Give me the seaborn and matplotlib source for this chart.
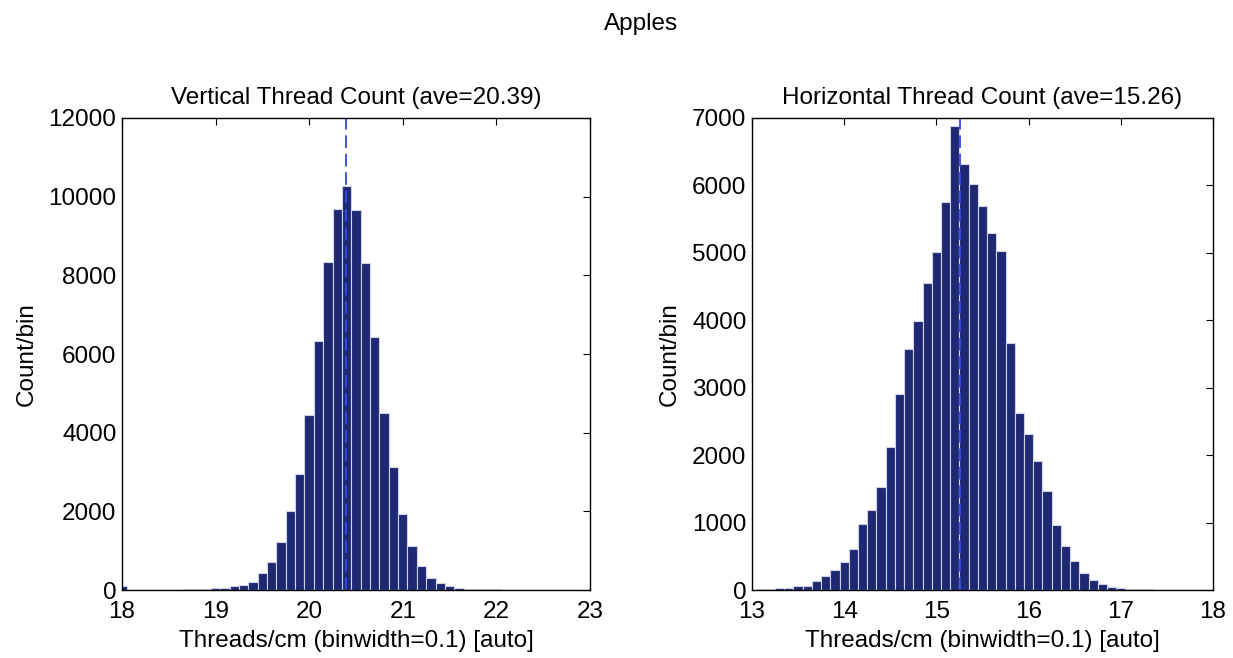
import numpy as np
import pandas as pd
import matplotlib
matplotlib.use("Agg")
import matplotlib.pyplot as plt
import seaborn as sns

# -------------------------------
# DATA
# -------------------------------

vert_centers = np.round(np.arange(18.0, 23.05, 0.1), 1)
vert_counts = [110, 5, 5, 5, 8, 10, 12, 15, 20, 30,
               42, 60, 110, 128, 213, 425, 706, 1220, 2000, 2960,
               4440, 6340, 8330, 9690, 10260, 9660, 8310, 6420, 4510, 3140,
               1940, 1110, 613, 315, 187, 110, 50, 35, 28, 22,
               15, 12, 10, 8, 6, 5, 5, 4, 3, 3,
               3]
vert_ave = 20.39

horiz_centers = np.round(np.arange(13.0, 18.05, 0.1), 1)
horiz_counts = [5, 10, 15, 25, 35, 55, 62, 130, 213, 300,
                410, 606, 980, 1182, 1528, 2125, 2905, 3575, 3987, 4558,
                5015, 5754, 6887, 6320, 6018, 5700, 5298, 5025, 3664, 2631,
                2309, 1912, 1475, 968, 660, 432, 258, 149, 94, 45,
                35, 15, 10, 8, 6, 5, 5, 4, 3, 3,
                3]
horiz_ave = 15.26

binwidth = 0.1

# -------------------------------
# STYLE
# -------------------------------

sns.set_style("white")
plt.rcParams['font.family'] = ['Liberation Sans', 'DejaVu Sans']
plt.rcParams['text.color'] = 'black'
plt.rcParams['axes.labelcolor'] = 'black'

fs = 17.5
bar_color = "#1f2872"
line_color = "#3448e8"

fig = plt.figure(figsize=(12.33, 6.58), dpi=100)
ax1 = fig.add_axes([0.0989, 0.1033, 0.3796, 0.7174])
ax2 = fig.add_axes([0.6099, 0.1033, 0.3739, 0.7174])


def draw_hist(ax, centers, counts, ave, xlim, ylim, yticks, title):
    df = pd.DataFrame({"center": centers, "count": counts})
    sns.histplot(data=df, x="center", weights="count", binwidth=binwidth,
                 binrange=(centers[0] - binwidth / 2, centers[-1] + binwidth / 2),
                 ax=ax, color=bar_color, edgecolor="#cfd3e6", linewidth=0.8,
                 alpha=1.0)
    ax.axvline(ave, color=line_color, linestyle=(0, (7, 3.2)), lw=1.3)
    ax.set_xlim(*xlim)
    ax.set_ylim(*ylim)
    ax.set_xticks(np.arange(xlim[0], xlim[1] + 1, 1))
    ax.set_yticks(yticks)
    ax.set_title(title, fontsize=fs, pad=10, color="black")
    ax.set_xlabel("Threads/cm (binwidth=0.1) [auto]", fontsize=fs, labelpad=5)
    ax.set_ylabel("Count/bin", fontsize=fs, labelpad=8)
    ax.tick_params(direction="in", length=5, width=0.8, top=True, right=True,
                   labelsize=fs, colors="black")
    ax.tick_params(axis="x", pad=8)
    ax.tick_params(axis="y", pad=4)
    for sp in ax.spines.values():
        sp.set_visible(True)
        sp.set_color("black")
        sp.set_linewidth(1.0)


draw_hist(ax1, vert_centers, vert_counts, vert_ave, (18, 23), (0, 12000),
          np.arange(0, 12001, 2000), "Vertical Thread Count (ave=20.39)")
draw_hist(ax2, horiz_centers, horiz_counts, horiz_ave, (13, 18), (0, 7000),
          np.arange(0, 7001, 1000), "Horizontal Thread Count (ave=15.26)")

fig.text(0.52, 0.963, "Apples", ha="center", va="center", fontsize=fs)

plt.savefig("out.png", dpi=100)
plt.close()
